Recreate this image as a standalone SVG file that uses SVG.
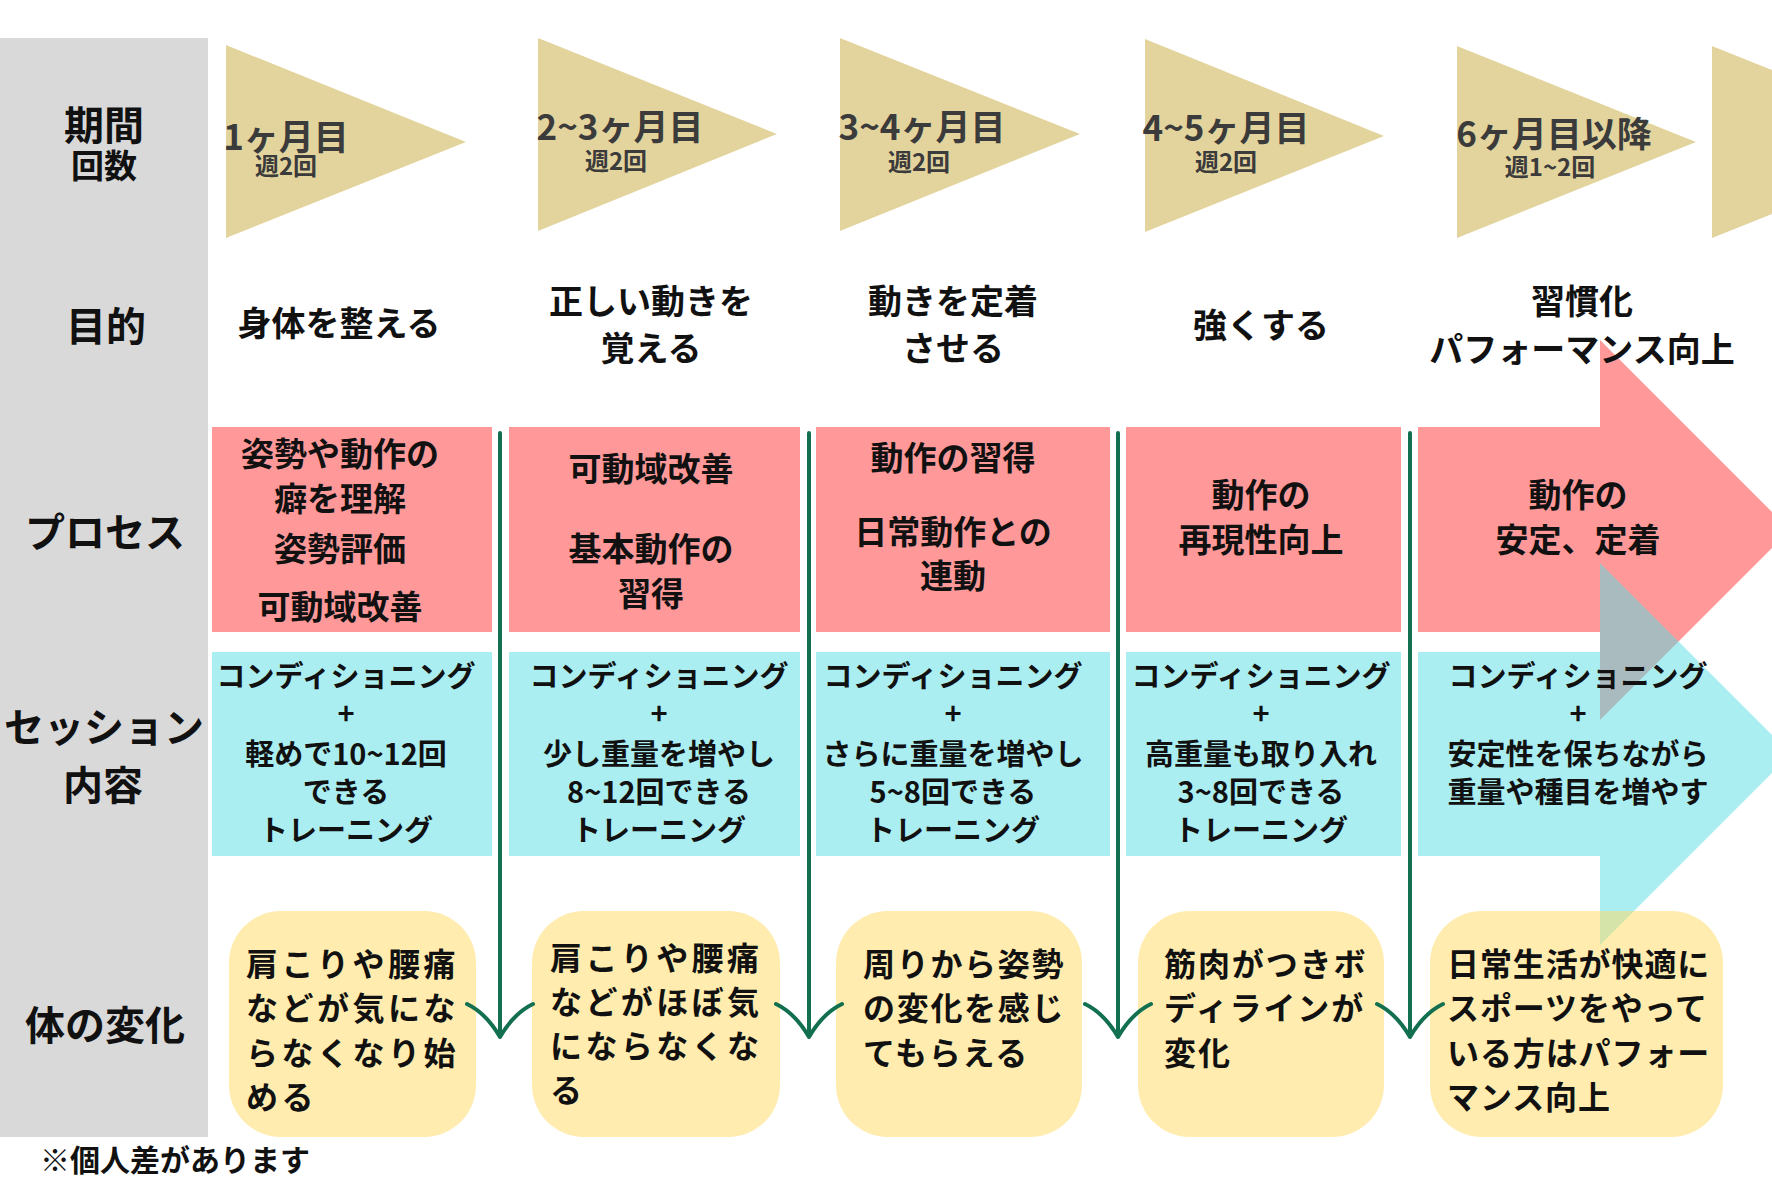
<svg xmlns="http://www.w3.org/2000/svg" width="1772" height="1181" viewBox="0 0 1772 1181">
<style>
text{font-family:"Noto Sans CJK JP","Noto Sans",sans-serif;font-weight:700;fill:#111}
.lbl{font-size:40px;text-anchor:middle}
.tri{fill:#E3D49E}
.tm{font-size:35px;text-anchor:middle;fill:#3B3B3B}
.ts{font-size:24px;text-anchor:middle;fill:#3B3B3B}
.pur{font-size:34px;text-anchor:middle}
.pink{fill:#FF9999}
.cyan{fill:rgb(85,221,229);fill-opacity:0.5}
.pt{font-size:33px;text-anchor:middle}
.st{font-size:29px;text-anchor:middle}
.bub{fill:rgb(255,217,93);fill-opacity:0.5}
.bt{font-size:32px}
.conn{stroke:#127050;stroke-width:4;fill:none;stroke-linecap:round;stroke-linejoin:round}
</style>
<rect width="1772" height="1181" fill="#FFFFFF"/>
<g id="side-panel">
<rect x="0" y="38" width="208" height="1099" fill="#D9D9D9"/>
<text class="lbl" x="104" y="140">期間</text>
<text class="lbl" x="104" y="178" style="font-size:33px">回数</text>
<text class="lbl" x="106" y="341">目的</text>
<text class="lbl" x="105" y="547">プロセス</text>
<text class="lbl" x="104" y="742">セッション</text>
<text class="lbl" x="103" y="800">内容</text>
<text class="lbl" x="105" y="1040">体の変化</text>
</g>
<g id="period-1">
<polygon class="tri" points="226,45 466,142 226,238"/>
<text class="tm" x="286" y="150">1ヶ月目</text>
<text class="ts" x="286" y="175">週2回</text>
</g>
<g id="period-2">
<polygon class="tri" points="538,38 777,134 538,231"/>
<text class="tm" x="620" y="140">2~3ヶ月目</text>
<text class="ts" x="616" y="170">週2回</text>
</g>
<g id="period-3">
<polygon class="tri" points="840,38 1080,134 840,231"/>
<text class="tm" x="922" y="140">3~4ヶ月目</text>
<text class="ts" x="919" y="171">週2回</text>
</g>
<g id="period-4">
<polygon class="tri" points="1145,39 1384,136 1145,232"/>
<text class="tm" x="1226" y="141">4~5ヶ月目</text>
<text class="ts" x="1226" y="171">週2回</text>
</g>
<g id="period-5">
<polygon class="tri" points="1457,46 1696,142 1457,238"/>
<text class="tm" x="1554" y="147">6ヶ月目以降</text>
<text class="ts" x="1550" y="176">週1~2回</text>
</g>
<g id="period-6">
<polygon class="tri" points="1712,46 1952,142 1712,238"/>
</g>
<g id="process-arrow">
<path class="pink" d="M1418,427 H1600 V340 L1790,530 L1600,720 V632 H1418 Z"/>
</g>
<g id="purpose-row">
<text class="pur" x="339" y="336">身体を整える</text>
<text class="pur" x="651" y="314">正しい動きを</text>
<text class="pur" x="651" y="361">覚える</text>
<text class="pur" x="953" y="314">動きを定着</text>
<text class="pur" x="953" y="361">させる</text>
<text class="pur" x="1261" y="338">強くする</text>
<text class="pur" x="1582" y="314">習慣化</text>
<text class="pur" x="1582" y="362">パフォーマンス向上</text>
</g>
<g id="process-1">
<rect class="pink" x="212" y="427" width="280" height="205"/>
<text class="pt" x="340" y="466">姿勢や動作の</text>
<text class="pt" x="340" y="511">癖を理解</text>
<text class="pt" x="340" y="561">姿勢評価</text>
<text class="pt" x="340" y="619">可動域改善</text>
</g>
<g id="process-2">
<rect class="pink" x="509" y="427" width="291" height="205"/>
<text class="pt" x="651" y="481">可動域改善</text>
<text class="pt" x="651" y="561">基本動作の</text>
<text class="pt" x="651" y="606">習得</text>
</g>
<g id="process-3">
<rect class="pink" x="816" y="427" width="294" height="205"/>
<text class="pt" x="953" y="470">動作の習得</text>
<text class="pt" x="953" y="544">日常動作との</text>
<text class="pt" x="953" y="588">連動</text>
</g>
<g id="process-4">
<rect class="pink" x="1126" y="427" width="275" height="205"/>
<text class="pt" x="1261" y="507">動作の</text>
<text class="pt" x="1261" y="552">再現性向上</text>
</g>
<g id="session-arrow">
<path class="cyan" d="M1418,652 H1600 V563 L1791,754 L1600,945 V856 H1418 Z"/>
</g>
<g id="process-5">
<text class="pt" x="1578" y="507">動作の</text>
<text class="pt" x="1578" y="552">安定、定着</text>
</g>
<g id="session-1">
<rect class="cyan" x="212" y="652" width="280" height="204"/>
<text class="st" x="346" y="687">コンディショニング</text>
<text class="st" x="346" y="724">+</text>
<text class="st" x="346" y="765">軽めで10~12回</text>
<text class="st" x="346" y="803">できる</text>
<text class="st" x="346" y="841">トレーニング</text>
</g>
<g id="session-2">
<rect class="cyan" x="509" y="652" width="291" height="204"/>
<text class="st" x="659" y="687">コンディショニング</text>
<text class="st" x="659" y="724">+</text>
<text class="st" x="659" y="765">少し重量を増やし</text>
<text class="st" x="659" y="803">8~12回できる</text>
<text class="st" x="659" y="841">トレーニング</text>
</g>
<g id="session-3">
<rect class="cyan" x="816" y="652" width="294" height="204"/>
<text class="st" x="953" y="687">コンディショニング</text>
<text class="st" x="953" y="724">+</text>
<text class="st" x="953" y="765">さらに重量を増やし</text>
<text class="st" x="953" y="803">5~8回できる</text>
<text class="st" x="953" y="841">トレーニング</text>
</g>
<g id="session-4">
<rect class="cyan" x="1126" y="652" width="275" height="204"/>
<text class="st" x="1261" y="687">コンディショニング</text>
<text class="st" x="1261" y="724">+</text>
<text class="st" x="1261" y="765">高重量も取り入れ</text>
<text class="st" x="1261" y="803">3~8回できる</text>
<text class="st" x="1261" y="841">トレーニング</text>
</g>
<g id="session-5">
<text class="st" x="1578" y="687">コンディショニング</text>
<text class="st" x="1578" y="724">+</text>
<text class="st" x="1578" y="765">安定性を保ちながら</text>
<text class="st" x="1578" y="803">重量や種目を増やす</text>
</g>
<g id="change-1">
<rect class="bub" x="229" y="911" width="247" height="226" rx="52"/>
<text class="bt" x="246" y="976" letter-spacing="3.5">肩こりや腰痛</text>
<text class="bt" x="246" y="1020" letter-spacing="3.5">などが気にな</text>
<text class="bt" x="246" y="1065" letter-spacing="3.5">らなくなり始</text>
<text class="bt" x="246" y="1109" letter-spacing="3.5">める</text>
</g>
<g id="change-2">
<rect class="bub" x="532" y="911" width="248" height="226" rx="52"/>
<text class="bt" x="550" y="970" letter-spacing="3.4">肩こりや腰痛</text>
<text class="bt" x="550" y="1014" letter-spacing="3.4">などがほぼ気</text>
<text class="bt" x="550" y="1058" letter-spacing="3.4">にならなくな</text>
<text class="bt" x="550" y="1102" letter-spacing="3.4">る</text>
</g>
<g id="change-3">
<rect class="bub" x="836" y="911" width="246" height="226" rx="52"/>
<text class="bt" x="863" y="976" letter-spacing="1.7">周りから姿勢</text>
<text class="bt" x="863" y="1020" letter-spacing="1.7">の変化を感じ</text>
<text class="bt" x="863" y="1065" letter-spacing="1.7">てもらえる</text>
</g>
<g id="change-4">
<rect class="bub" x="1138" y="911" width="246" height="226" rx="52"/>
<text class="bt" x="1164" y="976" letter-spacing="1.9">筋肉がつきボ</text>
<text class="bt" x="1164" y="1020" letter-spacing="1.9">ディラインが</text>
<text class="bt" x="1164" y="1065" letter-spacing="1.9">変化</text>
</g>
<g id="change-5">
<rect class="bub" x="1430" y="911" width="293" height="226" rx="52"/>
<text class="bt" x="1447" y="976" letter-spacing="0.9">日常生活が快適に</text>
<text class="bt" x="1447" y="1020" letter-spacing="0.9">スポーツをやって</text>
<text class="bt" x="1447" y="1065" letter-spacing="0.9">いる方はパフォー</text>
<text class="bt" x="1447" y="1109" letter-spacing="0.9">マンス向上</text>
</g>
<g id="connectors">
<path class="conn" d="M500,433 V1037 M467,1004 Q486,1013 500,1037 Q514,1013 533,1004"/>
<path class="conn" d="M809,433 V1037 M776,1004 Q795,1013 809,1037 Q823,1013 842,1004"/>
<path class="conn" d="M1118,433 V1037 M1085,1004 Q1104,1013 1118,1037 Q1132,1013 1151,1004"/>
<path class="conn" d="M1410,433 V1037 M1377,1004 Q1396,1013 1410,1037 Q1424,1013 1443,1004"/>
</g>
<g id="note">
<text x="40" y="1171" style="font-size:30px">※個人差があります</text>
</g>
</svg>
